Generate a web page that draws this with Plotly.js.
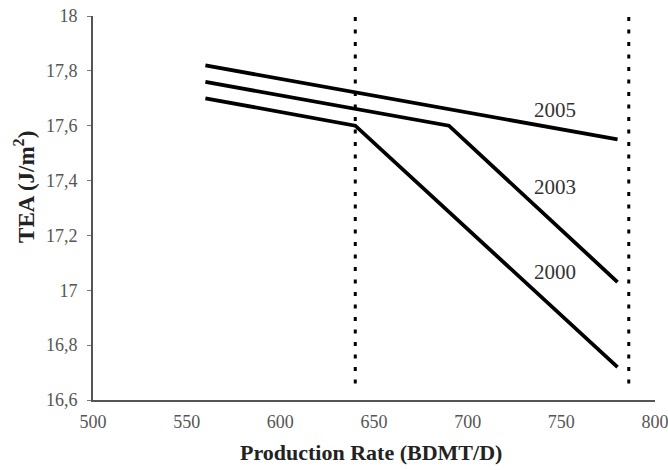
<!DOCTYPE html>
<html>
<head>
<meta charset="utf-8">
<script src="https://cdn.plot.ly/plotly-3.0.1.min.js"></script>
<style>html,body{margin:0;padding:0;background:#fff;}#chart{width:668px;height:470px;}</style>
</head>
<body>
<div id="chart"></div>
<script>
// Data
const years = ["2000", "2003", "2005"];
const x2000 = [560, 640, 780];
const y2000 = [17.70, 17.60, 16.72];
const x2003 = [560, 690, 780];
const y2003 = [17.76, 17.60, 17.03];
const x2005 = [560, 780];
const y2005 = [17.82, 17.55];
const markerLinesX = [640, 786];
const markerLinesY = [16.66, 18.0];
const labelX = [746.5, 746.5, 746.5];
const labelY = [17.067, 17.377, 17.657];
const xTitle = 'Production Rate (BDMT/D)';
const yTitle = 'TEA (J/m<sup>2</sup>)';

const solid = {color: '#000', width: 3.8};
const traces = [
  {x: x2000, y: y2000, mode: 'lines', line: solid, name: years[0]},
  {x: x2003, y: y2003, mode: 'lines', line: solid, name: years[1]},
  {x: x2005, y: y2005, mode: 'lines', line: solid, name: years[2]}
];
markerLinesX.forEach(v => traces.push({
  x: [v, v], y: markerLinesY, mode: 'lines',
  line: {color: '#000', width: 3, dash: '4px,8.5px'}
}));

const serif = 'Liberation Serif, Times New Roman, serif';
const annotations = years.map((t, i) => ({
  x: labelX[i], y: labelY[i], text: t, showarrow: false,
  font: {family: serif, size: 21, color: '#333'}
}));
annotations.push({
  xref: 'paper', yref: 'paper', x: 0.495, y: -0.138,
  xanchor: 'center', yanchor: 'middle', showarrow: false,
  text: xTitle, font: {family: serif, size: 22, color: '#222', weight: 'bold'}
});
annotations.push({
  xref: 'paper', yref: 'paper', x: -0.121, y: 0.555,
  xanchor: 'center', yanchor: 'middle', showarrow: false, textangle: -90,
  text: yTitle, font: {family: serif, size: 23, color: '#222', weight: 'bold'}
});

const layout = {
  width: 668, height: 470,
  margin: {l: 93, r: 13, t: 16, b: 70},
  showlegend: false,
  separators: ', ',
  paper_bgcolor: '#fff', plot_bgcolor: '#fff',
  font: {family: serif, color: '#444', size: 18},
  xaxis: {
    range: [500, 800], dtick: 50, tick0: 500,
    showgrid: false, zeroline: false,
    showline: true, linecolor: '#555', linewidth: 2,
    ticks: '', ticklabelstandoff: 4, ticklabeloverflow: 'allow',
    tickfont: {family: serif, size: 18, color: '#555'}
  },
  yaxis: {
    range: [16.6, 18], dtick: 0.2, tick0: 16.6,
    showgrid: false, zeroline: false,
    showline: true, linecolor: '#555', linewidth: 2,
    ticks: 'outside', ticklen: 4, tickcolor: '#777', ticklabelstandoff: 6,
    tickfont: {family: serif, size: 18, color: '#555'}
  },
  annotations: annotations
};
Plotly.newPlot('chart', traces, layout, {staticPlot: true, displayModeBar: false});
</script>
</body>
</html>
